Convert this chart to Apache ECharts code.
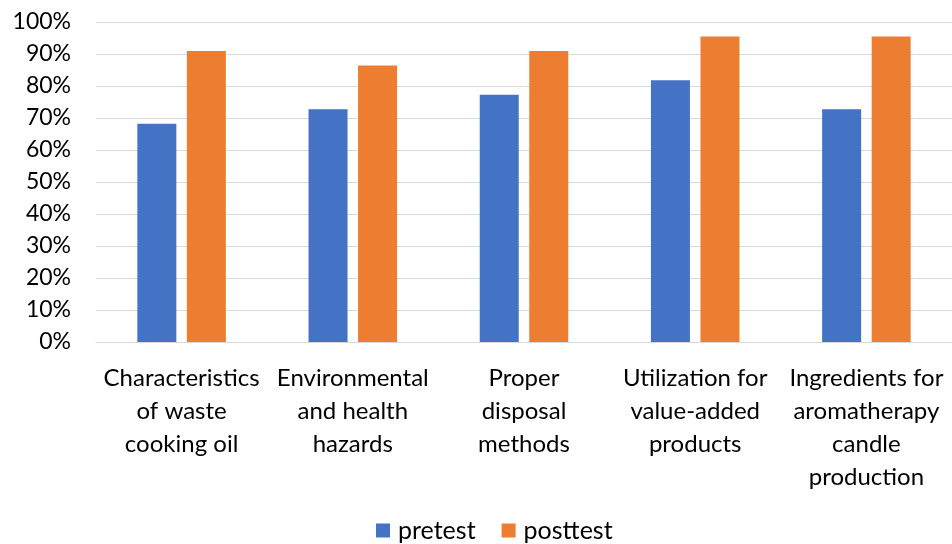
<!DOCTYPE html>
<html>
<head>
<meta charset="utf-8">
<style>
  html, body { margin: 0; padding: 0; background: #fff; }
  #chart { width: 952px; height: 544px; }
</style>
</head>
<body>
<div id="chart"></div>
<script src="https://cdn.jsdelivr.net/npm/echarts@6/dist/echarts.min.js"></script>
<script>
// topics on the x axis
var categories = [
  'Characteristics\nof waste\ncooking oil',
  'Environmental\nand health\nhazards',
  'Proper\ndisposal\nmethods',
  'Utilization for\nvalue-added\nproducts',
  'Ingredients for\naromatherapy\ncandle\nproduction'
];
// percent correct
var pretest = [68.2, 72.7, 77.3, 81.8, 72.7];
var posttest = [90.9, 86.4, 90.9, 95.5, 95.5];
var seriesNames = ['pretest', 'posttest'];

var font = 'Lato, "Open Sans", sans-serif';
var chart = echarts.init(document.getElementById('chart'));
chart.setOption({
  animation: false,
  textStyle: { fontFamily: font },
  color: ['#4472C4', '#ED7D31'],
  grid: { left: 96, right: 0, top: 22, bottom: 202 },
  legend: {
    top: 513,
    left: 371,
    itemWidth: 14,
    itemHeight: 14,
    itemGap: 26,
    icon: 'rect',
    textStyle: { fontSize: 25, color: '#000', fontFamily: font, padding: [0, 0, 0, 3] },
    data: seriesNames
  },
  xAxis: {
    type: 'category',
    data: categories,
    axisLine: { lineStyle: { color: '#d9d9d9', width: 1 } },
    axisTick: { show: false },
    axisLabel: {
      interval: 0,
      margin: 20,
      fontSize: 24,
      lineHeight: 33,
      color: '#000',
      fontFamily: font
    }
  },
  yAxis: {
    type: 'value',
    min: 0,
    max: 100,
    interval: 10,
    axisLine: { show: false },
    axisTick: { show: false },
    splitLine: { lineStyle: { color: '#d9d9d9', width: 1 } },
    axisLabel: {
      formatter: '{value}%',
      margin: 25,
      fontSize: 23,
      color: '#000',
      fontFamily: font
    }
  },
  series: [
    { name: seriesNames[0], type: 'bar', data: pretest, barWidth: 39, barGap: '27%' },
    { name: seriesNames[1], type: 'bar', data: posttest, barWidth: 39, barGap: '27%' }
  ]
});
</script>
</body>
</html>
